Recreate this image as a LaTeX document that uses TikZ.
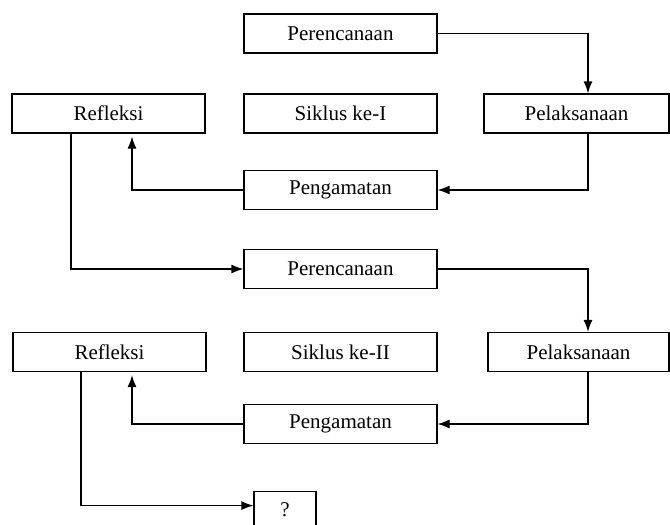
\documentclass[tikz,border=0pt]{standalone}
\usepackage{fontspec}
\setmainfont{Liberation Serif}
\usetikzlibrary{arrows.meta}

\begin{document}
\begin{tikzpicture}[%%
  x=1pt,y=-1pt,%%
  boxStyle/.style={draw,line width=1.2pt,inner sep=0pt,minimum width=193pt,%%
    minimum height=39pt,font=\fontsize{21}{25}\selectfont},%%
  arrowStyle/.style={line width=1.2pt,-{Latex[length=12pt,width=9pt]}}%%
]
%%
%%
\useasboundingbox (0,0) rectangle (670,525);
%%
%% The first cycle.
\node[boxStyle] (per1) at (340.5,33.5) {Perencanaan};
\node[boxStyle] (ref1) at (108.5,113.5) {Refleksi};
\node[boxStyle] (sik1) at (340.5,113.5) {Siklus ke-I};
\node[boxStyle,minimum width=185pt] (pel1) at (576.5,113.5) {Pelaksanaan};
\node[boxStyle] (pen1) at (340.5,190) {Pengamatan};
%%
%% The second cycle.
\node[boxStyle] (per2) at (340.5,269) {Perencanaan};
\node[boxStyle] (ref2) at (109.5,352) {Refleksi};
\node[boxStyle] (sik2) at (340.5,352) {Siklus ke-II};
\node[boxStyle,minimum width=181pt] (pel2) at (578.5,352) {Pelaksanaan};
\node[boxStyle] (pen2) at (340.5,424) {Pengamatan};
%%
%% The next cycle, cut off at the bottom.
\node[boxStyle,minimum width=62pt,minimum height=40pt,anchor=north] (q)
  at (285,491) {\raisebox{4pt}{?}};
%%
%%
\draw[arrowStyle] (per1.east) -| ([xshift=11.5pt]pel1.north);
\draw[arrowStyle] ([xshift=11.5pt]pel1.south) |- (pen1.east);
\draw[arrowStyle,shorten >=3pt] (pen1.west) -| ([xshift=23.5pt]ref1.south);
\draw[arrowStyle] ([xshift=-37.5pt]ref1.south) |- (per2.west);
\draw[arrowStyle] (per2.east) -| ([xshift=9.5pt]pel2.north);
\draw[arrowStyle] ([xshift=9.5pt]pel2.south) |- (pen2.east);
\draw[arrowStyle,shorten >=3pt] (pen2.west) -| ([xshift=22.5pt]ref2.south);
\draw[arrowStyle] ([xshift=-28.5pt]ref2.south) |- ([yshift=6pt]q.west);
\end{tikzpicture}
\end{document}
